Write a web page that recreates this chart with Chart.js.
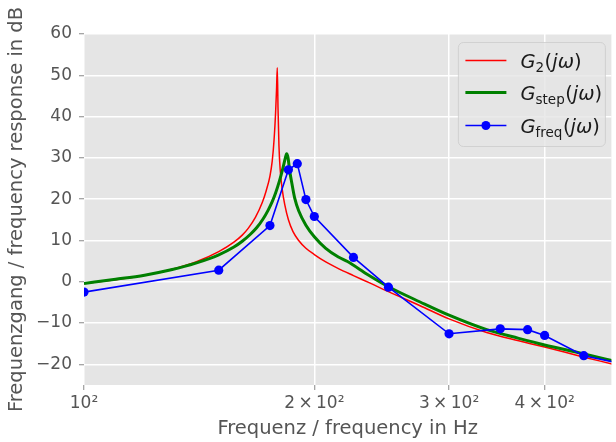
<!DOCTYPE html>
<html>
<head>
<meta charset="utf-8">
<script src="https://cdn.jsdelivr.net/npm/chart.js@4.4.1/dist/chart.umd.min.js"></script>
<style>
  html, body { margin: 0; padding: 0; background: #fff; overflow: hidden; }
  #wrap { width: 616px; height: 442px; }
</style>
</head>
<body>
<div id="wrap"><canvas id="chart" width="616" height="442"></canvas></div>
<script>
// G2(jw) - analytic model
const g2Freq = [100, 110, 120, 130, 140, 150, 157, 161, 164, 167.5, 171, 173, 175, 176.2, 177.2, 178, 178.5, 178.9,
  179.3, 179.8, 180.5, 181.6, 183, 185, 187.5, 190.8, 195, 200, 207, 215, 225, 237, 250, 275, 300, 336, 370, 400, 449, 490, 500]
const g2Db = [-0.4, 0.5, 1.6, 3.0, 4.8, 7.3, 9.6, 11.3, 13.0, 15.6, 19.2, 22.0, 25.6, 29.2, 34.5, 41, 46.5, 51.8,
  42, 33, 27, 22.3, 18.6, 15.0, 12.2, 10.0, 8.1, 6.6, 4.8, 3.2, 1.5, -0.4, -2.4, -5.8, -9.0, -12.3, -14.3, -15.8, -18.2, -19.9, -20.3]

// G_step(jw) - identified from step response
const stepFreq = [100, 110, 120, 130, 140, 150, 157, 161, 165, 168, 171.4, 174, 176.2, 178, 180, 182, 183.2, 184,
  184.8, 185.6, 186.9, 188.5, 190.8, 195, 200, 207, 215, 221, 235, 250, 275, 300, 336, 370, 400, 449, 490, 500]
const stepDb = [-0.4, 0.6, 1.6, 2.9, 4.5, 6.5, 8.4, 9.8, 11.5, 13.0, 15.2, 17.3, 19.4, 21.5, 24.3, 27.6, 29.8, 31.0,
  30.0, 27.2, 23.9, 20.3, 17.2, 13.7, 10.9, 8.1, 6.0, 4.9, 1.7, -1.2, -4.9, -8.1, -11.6, -13.7, -15.3, -17.4, -19.1, -19.5]

// G_freq(jw) - measured points
const measFreq = [100, 150, 175, 185, 190, 195, 200, 225, 250, 300, 350, 380, 400, 450, 500]
const measDb = [-2.5, 2.8, 13.6, 27.1, 28.6, 19.9, 15.8, 5.9, -1.3, -12.6, -11.4, -11.6, -13.0, -17.9, -19.7]

const xTicks = [100, 200, 300, 400]
const xTickLabels = ['10²', '2\u2009×\u200910²', '3\u2009×\u200910²', '4\u2009×\u200910²']
const yTicks = [-20, -10, 0, 10, 20, 30, 40, 50, 60]
const legendSubs = ['2', 'step', 'freq']
const seriesColors = ['#ff0000', '#008000', '#0000ff']

const FONT = '"DejaVu Sans", sans-serif'

const toPoints = (xs, ys) => xs.map((x, i) => ({ x, y: ys[i] }))

const plotBackground = {
  id: 'plotBackground',
  beforeDraw (chart) {
    const { ctx, chartArea: a } = chart
    ctx.save()
    ctx.fillStyle = '#e5e5e5'
    ctx.fillRect(a.left, a.top, a.right - a.left, a.bottom - a.top)
    ctx.restore()
  }
}

// legend with mathtext-like labels, upper right inside the axes
const mathLegend = {
  id: 'mathLegend',
  afterDatasetsDraw (chart) {
    const { ctx, chartArea: a } = chart
    const w = 147
    const h = 104
    const x0 = a.right - 6 - w
    const y0 = a.top + 8.5

    ctx.save()
    ctx.beginPath()
    ctx.roundRect(x0, y0, w, h, 5)
    ctx.fillStyle = 'rgba(229,229,229,0.8)'
    ctx.fill()
    ctx.lineWidth = 1
    ctx.strokeStyle = 'rgba(204,204,204,0.8)'
    ctx.stroke()

    const rowY = [y0 + 18, y0 + 50, y0 + 83]
    const widths = [1.5, 3, 1.6]

    legendSubs.forEach((sub, i) => {
      const y = rowY[i]
      ctx.strokeStyle = seriesColors[i]
      ctx.lineWidth = widths[i]
      ctx.beginPath()
      ctx.moveTo(x0 + 7, y)
      ctx.lineTo(x0 + 48, y)
      ctx.stroke()
      if (i === 2) {
        ctx.fillStyle = seriesColors[i]
        ctx.beginPath()
        ctx.arc(x0 + 27.5, y, 4.5, 0, Math.PI * 2)
        ctx.fill()
      }

      const base = y + 7
      let x = x0 + 62
      ctx.fillStyle = '#1a1a1a'
      ctx.textBaseline = 'alphabetic'
      ctx.textAlign = 'left'

      ctx.font = 'italic 19.5px ' + FONT
      ctx.fillText('G', x, base)
      x += ctx.measureText('G').width

      ctx.font = '13.5px ' + FONT
      ctx.fillText(sub, x, base + 4)
      x += ctx.measureText(sub).width + 0.5

      ctx.font = '19.5px ' + FONT
      ctx.fillText('(', x, base)
      x += ctx.measureText('(').width

      ctx.font = 'italic 19.5px ' + FONT
      ctx.fillText('jω', x, base)
      x += ctx.measureText('jω').width

      ctx.font = '19.5px ' + FONT
      ctx.fillText(')', x, base)
    })
    ctx.restore()
  }
}

const tickFont = { family: FONT, size: 17 }
const titleFont = { family: FONT, size: 19.5 }

new Chart(document.getElementById('chart').getContext('2d'), {
  type: 'line',
  data: {
    datasets: [
      {
        label: 'G2',
        data: toPoints(g2Freq, g2Db),
        borderColor: seriesColors[0],
        borderWidth: 1.5,
        pointRadius: 0,
        cubicInterpolationMode: 'monotone',
        order: 3,
        clip: 0
      },
      {
        label: 'Gstep',
        data: toPoints(stepFreq, stepDb),
        borderColor: seriesColors[1],
        borderWidth: 3,
        pointRadius: 0,
        cubicInterpolationMode: 'monotone',
        order: 2,
        clip: 0
      },
      {
        label: 'Gfreq',
        data: toPoints(measFreq, measDb),
        borderColor: seriesColors[2],
        backgroundColor: seriesColors[2],
        borderWidth: 1.6,
        pointRadius: 4.6,
        pointBorderWidth: 0,
        tension: 0,
        order: 1,
        clip: 0
      }
    ]
  },
  options: {
    responsive: false,
    animation: false,
    devicePixelRatio: 1,
    layout: { padding: { top: 34, right: 0, bottom: 0, left: 0 } },
    plugins: {
      legend: { display: false },
      tooltip: { enabled: false }
    },
    scales: {
      x: {
        type: 'logarithmic',
        min: 100,
        max: 489,
        afterBuildTicks (scale) {
          scale.ticks = xTicks.map(v => ({ value: v }))
        },
        afterFit (scale) {
          scale.height = 57
        },
        ticks: {
          autoSkip: false,
          maxRotation: 0,
          color: '#555555',
          font: tickFont,
          padding: 3,
          callback: (v, i) => xTickLabels[i]
        },
        grid: {
          color: '#ffffff',
          lineWidth: 1.5,
          tickColor: '#888888',
          tickLength: 5,
          tickWidth: 1
        },
        border: { display: false },
        title: {
          display: true,
          text: 'Frequenz / frequency in Hz',
          color: '#555555',
          font: titleFont,
          padding: { top: 0, bottom: 1 }
        }
      },
      y: {
        type: 'linear',
        min: -25,
        max: 60,
        afterBuildTicks (scale) {
          scale.ticks = yTicks.map(v => ({ value: v }))
        },
        afterFit (scale) {
          scale.width = 84
        },
        ticks: {
          color: '#555555',
          font: tickFont,
          padding: 7,
          callback: v => (v < 0 ? '−' + Math.abs(v) : String(v))
        },
        grid: {
          color: '#ffffff',
          lineWidth: 1.5,
          tickColor: '#888888',
          tickLength: 5,
          tickWidth: 1
        },
        border: { display: false },
        title: {
          display: true,
          text: 'Frequenzgang / frequency response in dB',
          color: '#555555',
          font: titleFont,
          padding: { top: 5, bottom: 0 }
        }
      }
    }
  },
  plugins: [plotBackground, mathLegend]
})
</script>
</body>
</html>
